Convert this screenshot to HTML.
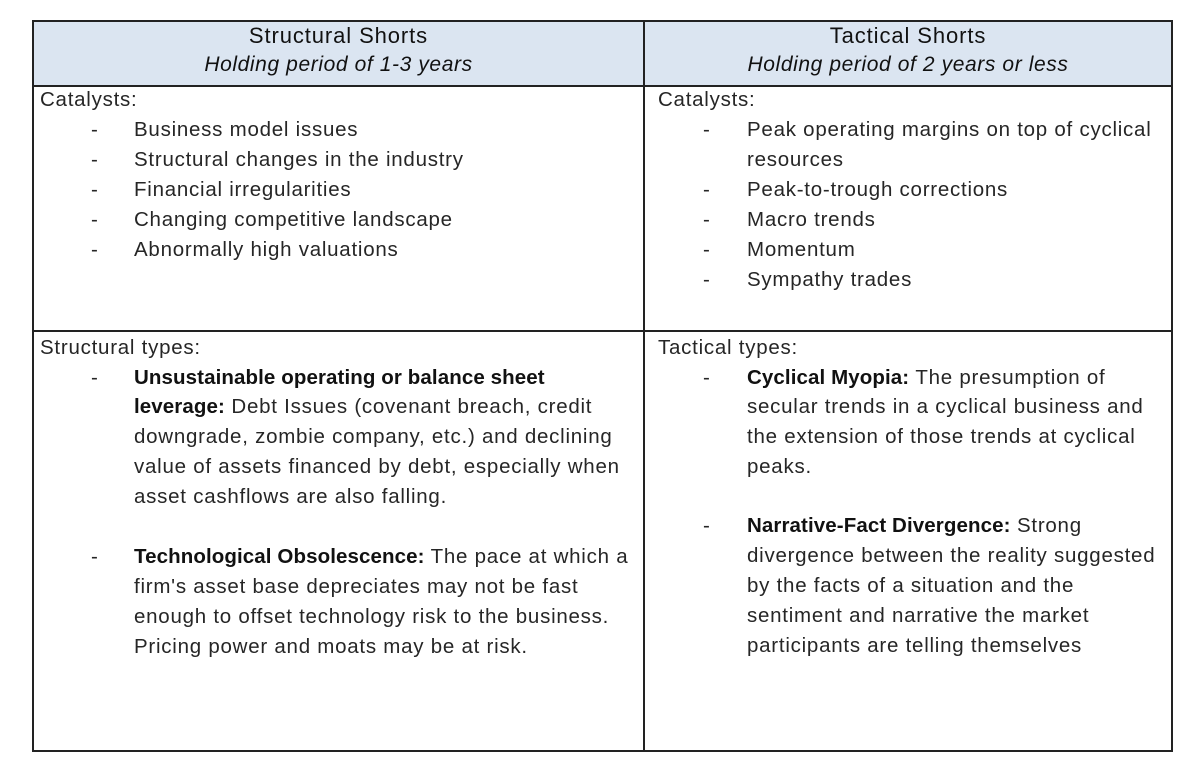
<!DOCTYPE html>
<html><head><meta charset="utf-8"><style>
body{margin:0;width:1200px;height:770px;background:#fff;position:relative;font-family:"Liberation Sans",sans-serif;color:#262626;overflow:hidden}
.b{position:absolute;background:#222}
.t{position:absolute;white-space:nowrap;font-size:20.5px;letter-spacing:0.75px;line-height:30px}
.h{position:absolute;white-space:nowrap;font-size:22px;letter-spacing:0.9px;line-height:28px;text-align:center;color:#111}
.h.i{font-size:21px;letter-spacing:0.6px;font-style:italic}
b{font-weight:bold;color:#111;letter-spacing:0.1px}
</style></head><body>
<div style="position:absolute;left:33px;top:20px;width:1139px;height:65px;background:#dbe5f1"></div>
<div class="b" style="left:32px;top:20px;width:1141px;height:1.5px"></div>
<div class="b" style="left:32px;top:85px;width:1141px;height:1.5px"></div>
<div class="b" style="left:32px;top:330px;width:1141px;height:1.5px"></div>
<div class="b" style="left:32px;top:750px;width:1141px;height:1.5px"></div>
<div class="b" style="left:32px;top:20px;width:1.5px;height:731px"></div>
<div class="b" style="left:643px;top:20px;width:1.5px;height:731px"></div>
<div class="b" style="left:1171px;top:20px;width:1.5px;height:731px"></div>

<div class="h" style="left:33px;width:611px;top:22px">Structural Shorts</div>
<div class="h i" style="left:33px;width:611px;top:51px">Holding period of 1-3 years</div>
<div class="h" style="left:644px;width:528px;top:22px">Tactical Shorts</div>
<div class="h i" style="left:644px;width:528px;top:51px">Holding period of 2 years or less</div>

<div class="t" style="left:40px;top:85px">Catalysts:</div>
<div class="t" style="left:91px;top:115px">-</div><div class="t" style="left:134px;top:115px">Business model issues</div>
<div class="t" style="left:91px;top:145px">-</div><div class="t" style="left:134px;top:145px">Structural changes in the industry</div>
<div class="t" style="left:91px;top:175px">-</div><div class="t" style="left:134px;top:175px">Financial irregularities</div>
<div class="t" style="left:91px;top:205px">-</div><div class="t" style="left:134px;top:205px">Changing competitive landscape</div>
<div class="t" style="left:91px;top:235px">-</div><div class="t" style="left:134px;top:235px">Abnormally high valuations</div>

<div class="t" style="left:658px;top:85px">Catalysts:</div>
<div class="t" style="left:703px;top:115px">-</div><div class="t" style="left:747px;top:115px">Peak operating margins on top of cyclical</div>
<div class="t" style="left:747px;top:145px">resources</div>
<div class="t" style="left:703px;top:175px">-</div><div class="t" style="left:747px;top:175px">Peak-to-trough corrections</div>
<div class="t" style="left:703px;top:205px">-</div><div class="t" style="left:747px;top:205px">Macro trends</div>
<div class="t" style="left:703px;top:235px">-</div><div class="t" style="left:747px;top:235px">Momentum</div>
<div class="t" style="left:703px;top:265px">-</div><div class="t" style="left:747px;top:265px">Sympathy trades</div>

<div class="t" style="left:40px;top:333px">Structural types:</div>
<div class="t" style="left:91px;top:363px">-</div><div class="t" style="left:134px;top:363px"><b>Unsustainable operating or balance sheet</b></div>
<div class="t" style="left:134px;top:392px"><b>leverage:</b> Debt Issues (covenant breach, credit</div>
<div class="t" style="left:134px;top:422px">downgrade, zombie company, etc.) and declining</div>
<div class="t" style="left:134px;top:452px">value of assets financed by debt, especially when</div>
<div class="t" style="left:134px;top:482px">asset cashflows are also falling.</div>
<div class="t" style="left:91px;top:542px">-</div><div class="t" style="left:134px;top:542px"><b>Technological Obsolescence:</b> The pace at which a</div>
<div class="t" style="left:134px;top:572px">firm's asset base depreciates may not be fast</div>
<div class="t" style="left:134px;top:602px">enough to offset technology risk to the business.</div>
<div class="t" style="left:134px;top:632px">Pricing power and moats may be at risk.</div>

<div class="t" style="left:658px;top:333px">Tactical types:</div>
<div class="t" style="left:703px;top:363px">-</div><div class="t" style="left:747px;top:363px"><b>Cyclical Myopia:</b> The presumption of</div>
<div class="t" style="left:747px;top:392px">secular trends in a cyclical business and</div>
<div class="t" style="left:747px;top:422px">the extension of those trends at cyclical</div>
<div class="t" style="left:747px;top:452px">peaks.</div>
<div class="t" style="left:703px;top:511px">-</div><div class="t" style="left:747px;top:511px"><b>Narrative-Fact Divergence:</b> Strong</div>
<div class="t" style="left:747px;top:541px">divergence between the reality suggested</div>
<div class="t" style="left:747px;top:571px">by the facts of a situation and the</div>
<div class="t" style="left:747px;top:601px">sentiment and narrative the market</div>
<div class="t" style="left:747px;top:631px">participants are telling themselves</div>
</body></html>
